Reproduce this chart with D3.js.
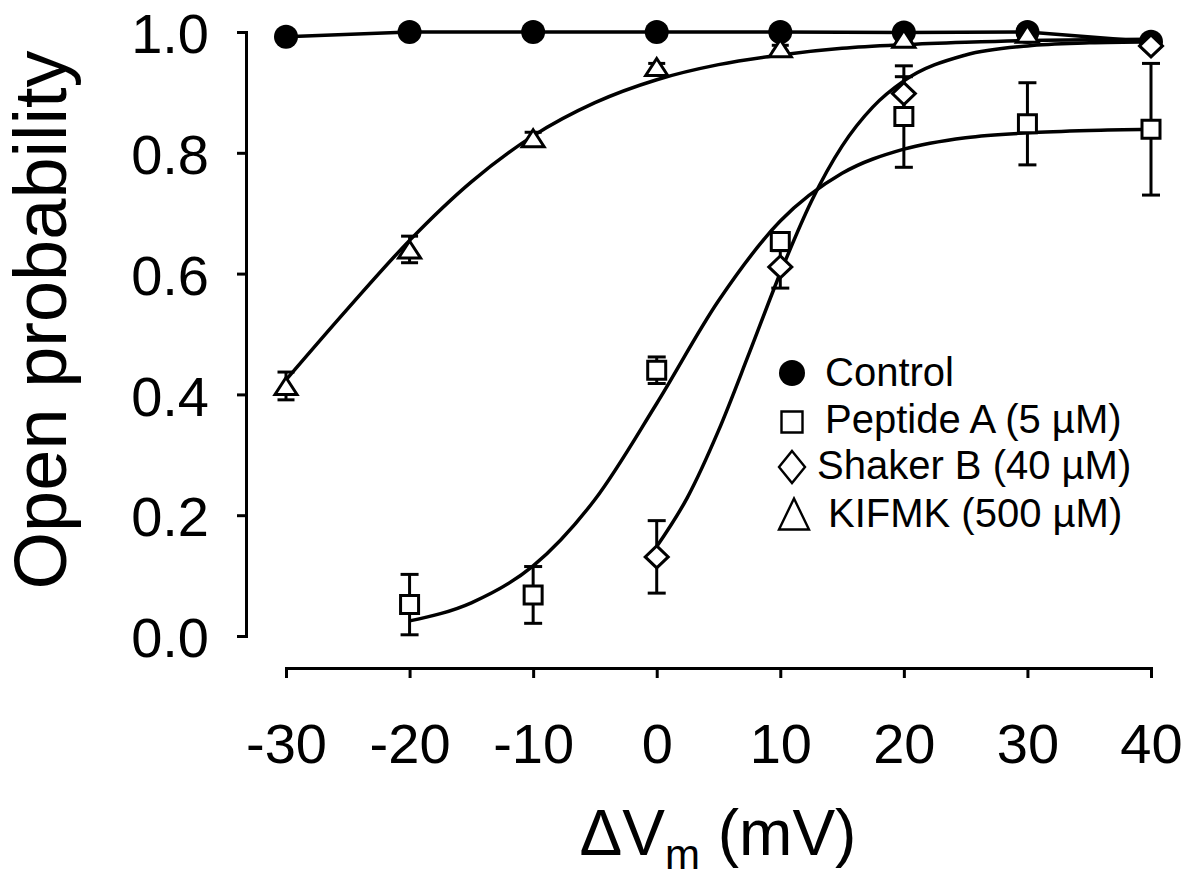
<!DOCTYPE html>
<html>
<head>
<meta charset="utf-8">
<script src="https://cdn.jsdelivr.net/npm/d3@7"></script>
<style>
  body { margin: 0; background: #fff; }
  svg { font-family: Arial, "Liberation Sans", sans-serif; }
</style>
</head>
<body>
<script>
// data
var controlV = [-30, -20, -10, 0, 10, 20, 30, 40];
var control = [0.992, 1.0, 1.0, 1.0, 1.0, 0.999, 1.0, 0.984];

var peptideV = [-20, -10, 0, 10, 20, 30, 40];
var peptide = [0.052, 0.068, 0.44, 0.653, 0.86, 0.848, 0.839];
var peptideErr = [0.05, 0.047, 0.022, 0.015, 0.084, 0.068, 0.109];

var shakerV = [0, 10, 20, 40];
var shaker = [0.131, 0.611, 0.898, 0.977];
var shakerErr = [0.06, 0.035, 0.028, 0.004];

var kifmkV = [-30, -20, -10, 0, 10, 20, 30];
var kifmk = [0.414, 0.64, 0.824, 0.942, 0.973, 0.989, 0.997];
var kifmkErr = [0.023, 0.022, 0.01, 0.006, 0.005, 0.005, 0.003];

// fitted curves
var peptideFitV = [-20, -15, -10, -5, 0, 5, 10, 15, 20, 25, 30, 35, 40];
var peptideFit = [0.025, 0.055, 0.116, 0.226, 0.385, 0.555, 0.687, 0.766, 0.806, 0.825, 0.833, 0.837, 0.839];
var shakerFitV = [0, 2.5, 5, 7.5, 10, 12.5, 15, 17.5, 20, 25, 30, 35, 40];
var shakerFit = [0.148, 0.23, 0.34, 0.469, 0.601, 0.719, 0.811, 0.876, 0.919, 0.962, 0.977, 0.982, 0.984];
var kifmkFitV = [-30, -25, -20, -15, -10, -5, 0, 5, 10, 15, 20, 25, 30, 35, 40];
var kifmkFit = [0.424, 0.542, 0.655, 0.752, 0.828, 0.883, 0.921, 0.946, 0.962, 0.973, 0.979, 0.983, 0.986, 0.987, 0.988];

var xTicks = [-30, -20, -10, 0, 10, 20, 30, 40];
var yTicks = [0, 0.2, 0.4, 0.6, 0.8, 1.0];
var legendNames = ["Control", "Peptide A (5 \u00B5M)", "Shaker B (40 \u00B5M)", "KIFMK (500 \u00B5M)"];

var width = 1185, height = 882;

var svg = d3.select("body").append("svg")
    .attr("width", width)
    .attr("height", height);

var x = d3.scaleLinear().domain([-30, 40]).range([286, 1151]);
var y = d3.scaleLinear().domain([0, 1]).range([636, 32]);

function zip(vs, ps, es) {
    return vs.map(function (v, i) { return { v: v, p: ps[i], e: es ? es[i] : 0 }; });
}

// axes
var yAxis = d3.axisLeft(y).tickValues(yTicks).tickSize(9).tickPadding(28)
    .tickFormat(d3.format(".1f"));
var gy = svg.append("g").attr("transform", "translate(246,0)").call(yAxis);

var xAxis = d3.axisBottom(x).tickValues(xTicks).tickSize(10).tickPadding(45)
    .tickFormat(d3.format("d"));
var gx = svg.append("g").attr("transform", "translate(0,668)").call(xAxis);

[gx, gy].forEach(function (g) {
    g.select(".domain").attr("stroke", "#000").attr("stroke-width", 3);
    g.selectAll(".tick line").attr("stroke", "#000").attr("stroke-width", 3);
    g.selectAll(".tick text").attr("fill", "#000").attr("font-size", 56)
        .attr("font-family", "Arial, 'Liberation Sans', sans-serif");
});
gy.selectAll(".tick text").attr("dy", "0.37em");
gx.selectAll(".tick text").text(function (d) { return d; });

// axis titles
svg.append("text")
    .attr("transform", "translate(66,320) rotate(-90)")
    .attr("text-anchor", "middle")
    .attr("font-size", 74)
    .text("Open probability");

var xt = svg.append("text")
    .attr("x", 718)
    .attr("y", 855)
    .attr("text-anchor", "middle")
    .attr("font-size", 64);
xt.append("tspan").text("\u0394V");
xt.append("tspan").attr("font-size", 42).attr("dy", 14).text("m");
xt.append("tspan").attr("dy", -14).text(" (mV)");

// lines
var line = d3.line()
    .x(function (d) { return x(d.v); })
    .y(function (d) { return y(d.p); });
var smooth = d3.line()
    .x(function (d) { return x(d.v); })
    .y(function (d) { return y(d.p); })
    .curve(d3.curveMonotoneX);

svg.append("path").datum(zip(controlV, control))
    .attr("d", line).attr("fill", "none").attr("stroke", "#000").attr("stroke-width", 3.5);
[[peptideFitV, peptideFit], [shakerFitV, shakerFit], [kifmkFitV, kifmkFit]].forEach(function (c) {
    svg.append("path").datum(zip(c[0], c[1]))
        .attr("d", smooth).attr("fill", "none").attr("stroke", "#000").attr("stroke-width", 3.5);
});

// error bars
function errorBars(data, cap) {
    var g = svg.append("g").attr("stroke", "#000").attr("stroke-width", 3);
    data.forEach(function (d) {
        g.append("line").attr("x1", x(d.v)).attr("x2", x(d.v))
            .attr("y1", y(d.p - d.e)).attr("y2", y(d.p + d.e));
        [d.p - d.e, d.p + d.e].forEach(function (p) {
            g.append("line").attr("x1", x(d.v) - cap / 2).attr("x2", x(d.v) + cap / 2)
                .attr("y1", y(p)).attr("y2", y(p));
        });
    });
}

var pepData = zip(peptideV, peptide, peptideErr);
var shkData = zip(shakerV, shaker, shakerErr);
var kifData = zip(kifmkV, kifmk, kifmkErr);

errorBars(kifData, 17);
errorBars(pepData, 18);
errorBars(shkData, 18);

// markers
var sqPath = function (s) { return "M" + (-s / 2) + "," + (-s / 2) + "h" + s + "v" + s + "h" + (-s) + "Z"; };
var dmPath = function (w, h) { return "M0," + (-h / 2) + "L" + (w / 2) + ",0L0," + (h / 2) + "L" + (-w / 2) + ",0Z"; };
var trPath = function (w, h) { return "M0," + (-h / 2) + "L" + (w / 2) + "," + (h / 2) + "L" + (-w / 2) + "," + (h / 2) + "Z"; };

svg.append("g").selectAll("circle")
    .data(zip(controlV, control))
    .enter().append("circle")
    .attr("cx", function (d) { return x(d.v); })
    .attr("cy", function (d) { return y(d.p); })
    .attr("r", 12)
    .attr("fill", "#000");

function markers(data, pathStr) {
    svg.append("g").selectAll("path")
        .data(data)
        .enter().append("path")
        .attr("transform", function (d) { return "translate(" + x(d.v) + "," + y(d.p) + ")"; })
        .attr("d", pathStr)
        .attr("fill", "#fff")
        .attr("stroke", "#000")
        .attr("stroke-width", 3);
}
markers(pepData, sqPath(18));
markers(shkData, dmPath(23, 22));
markers(kifData, trPath(22, 17));

// legend
var legend = svg.append("g").attr("font-size", 40);
var rowsY = [386, 433, 479, 527];
var symY = [373, 422, 467, 514];
var textX = [825, 825, 817, 828];

legend.append("circle").attr("cx", 792).attr("cy", symY[0]).attr("r", 13).attr("fill", "#000");
legend.append("path").attr("transform", "translate(792," + symY[1] + ")").attr("d", sqPath(21))
    .attr("fill", "none").attr("stroke", "#000").attr("stroke-width", 2.4);
legend.append("path").attr("transform", "translate(792," + symY[2] + ")").attr("d", dmPath(26, 32))
    .attr("fill", "none").attr("stroke", "#000").attr("stroke-width", 2.4);
legend.append("path").attr("transform", "translate(794," + symY[3] + ")").attr("d", trPath(30, 31))
    .attr("fill", "none").attr("stroke", "#000").attr("stroke-width", 2.4);

legend.selectAll("text")
    .data(legendNames)
    .enter().append("text")
    .attr("x", function (d, i) { return textX[i]; })
    .attr("y", function (d, i) { return rowsY[i]; })
    .text(function (d) { return d; });
</script>
</body>
</html>
